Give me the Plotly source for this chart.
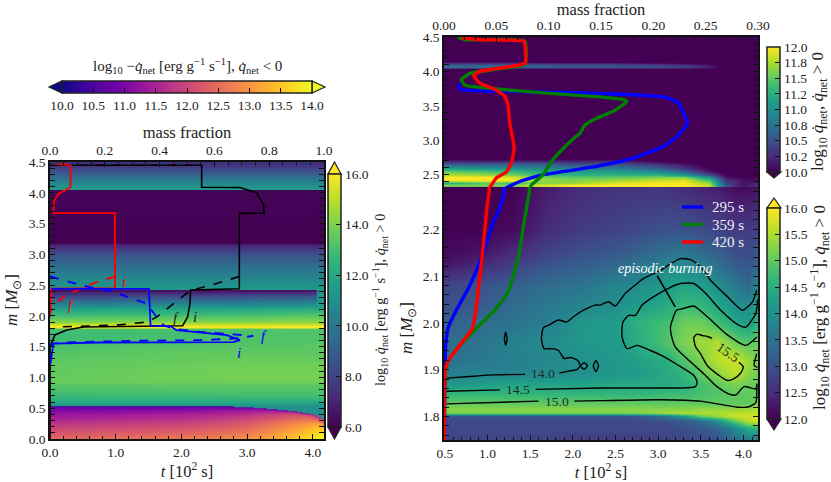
import plotly.graph_objects as go

W = 831
H = 482
FONT = "Liberation Serif"
INK = "#222222"
TICK_SIZE = 13.5

# left panel, positive net heating (viridis)
left_t = [0.0, 1.0, 2.0, 3.0, 3.8, 4.03, 4.08, 4.17]
left_m = [0.0, 0.5, 0.55, 0.6, 0.7, 0.8, 0.9, 0.92, 1.0, 1.2, 1.4, 1.55, 1.6, 1.7, 1.79, 1.805, 1.82, 1.84, 1.86,
          1.9, 2.0, 2.1, 2.2, 2.3, 2.35, 2.425, 2.435, 2.45, 2.6, 2.8, 3.0, 3.15, 3.2, 4.045, 4.06, 4.1, 4.2, 4.3,
          4.45, 4.5]
left_z = [
    [11.0, 11.0, 11.0, 11.0, 11.0, 11.0, 11.0, 11.0],
    [11.0, 11.0, 11.0, 11.0, 11.0, 11.0, 11.0, 11.0],
    [11.2, 11.2, 11.2, 11.2, 11.2, 11.3, 11.3, 11.3],
    [12.0, 12.0, 12.0, 12.0, 12.0, 12.0, 12.0, 12.0],
    [12.7, 12.8, 12.8, 12.9, 12.9, 12.9, 12.9, 12.9],
    [13.1, 13.1, 13.2, 13.2, 13.2, 13.2, 13.2, 13.2],
    [13.4, 13.4, 13.5, 13.5, 13.5, 13.5, 13.5, 13.5],
    [13.6, 13.7, 13.7, 13.8, 13.8, 13.8, 13.8, 13.8],
    [13.6, 13.7, 13.8, 13.9, 13.9, 13.9, 13.9, 13.9],
    [13.5, 13.6, 13.7, 13.8, 13.8, 13.8, 13.8, 13.8],
    [13.3, 13.4, 13.5, 13.5, 13.5, 13.4, 13.4, 13.4],
    [13.0, 13.2, 13.2, 13.3, 13.3, 13.4, 13.5, 13.5],
    [12.9, 13.0, 13.1, 13.2, 13.2, 13.2, 13.2, 13.2],
    [12.8, 12.9, 13.0, 13.1, 13.2, 13.2, 13.2, 13.2],
    [13.0, 13.0, 13.1, 13.2, 13.3, 13.3, 13.3, 13.3],
    [14.5, 14.6, 14.6, 14.6, 14.8, 14.8, 14.8, 14.8],
    [15.8, 15.8, 15.8, 15.8, 15.8, 15.8, 15.8, 15.8],
    [15.9, 15.9, 15.9, 15.9, 15.9, 15.9, 15.9, 15.9],
    [15.4, 15.4, 15.4, 15.4, 15.4, 15.4, 15.4, 15.4],
    [14.2, 14.2, 14.2, 14.2, 14.3, 14.3, 14.3, 14.3],
    [13.0, 13.1, 13.1, 13.2, 13.4, 13.4, 13.4, 13.4],
    [12.0, 12.1, 12.1, 12.2, 12.4, 12.4, 12.4, 12.4],
    [10.4, 10.5, 10.6, 10.6, 10.8, 10.9, 11.4, 11.4],
    [8.4, 8.5, 8.6, 8.7, 8.9, 9.0, 11.2, 11.2],
    [7.5, 7.6, 7.6, 7.7, 7.8, 7.9, 11.2, 11.2],
    [6.3, 6.3, 6.3, 6.3, 6.4, 6.4, 11.2, 11.2],
    [11.4, 11.4, 11.4, 11.4, 11.4, 11.4, 11.4, 11.4],
    [11.3, 11.3, 11.3, 11.3, 11.3, 11.3, 11.3, 11.3],
    [10.7, 10.7, 10.7, 10.7, 10.7, 10.7, 10.7, 10.7],
    [9.7, 9.7, 9.7, 9.7, 9.7, 9.7, 9.7, 9.7],
    [8.5, 8.5, 8.5, 8.5, 8.5, 8.5, 8.5, 8.5],
    [7.0, 7.0, 7.0, 7.0, 7.0, 7.0, 7.0, 7.0],
    [6.0, 6.0, 6.0, 6.0, 6.0, 6.0, 6.0, 6.0],
    [6.1, 6.1, 6.1, 6.1, 6.1, 6.1, 6.1, 6.1],
    [11.4, 11.4, 11.4, 11.4, 11.4, 11.4, 11.4, 11.4],
    [11.2, 11.2, 11.2, 11.2, 11.2, 11.2, 11.2, 11.2],
    [10.2, 10.2, 10.2, 10.2, 10.2, 10.2, 10.2, 10.2],
    [9.0, 9.0, 9.0, 9.0, 9.0, 9.0, 9.0, 9.0],
    [7.5, 7.5, 7.5, 7.5, 7.5, 7.5, 7.5, 7.5],
    [7.3, 7.3, 7.3, 7.3, 7.3, 7.3, 7.3, 7.3],
]

# left panel, net cooling (plasma); None above the edge of the cooling region
cool_t = [0.0, 1.0, 2.0, 2.6, 3.0, 3.2, 3.4, 3.55, 3.7, 3.8, 3.9, 3.97, 4.05, 4.1, 4.17]
cool_m = [0.0, 0.1, 0.2, 0.3, 0.36, 0.385, 0.4, 0.42, 0.435, 0.455, 0.47, 0.485, 0.5, 0.515, 0.525, 0.53]
N = None
cool_z = [
    [12.5, 12.6, 12.7, 12.85, 13.0, 13.1, 13.2, 13.35, 13.5, 13.6, 13.7, 13.8, 13.9, 13.95, 14.0],
    [12.2, 12.3, 12.4, 12.55, 12.7, 12.85, 13.0, 13.15, 13.3, 13.4, 13.5, 13.6, 13.7, 13.75, 13.8],
    [11.9, 12.0, 12.1, 12.25, 12.4, 12.55, 12.7, 12.85, 13.0, 13.1, 13.2, 13.3, 13.4, 13.4, 13.3],
    [11.6, 11.7, 11.8, 11.95, 12.1, 12.25, 12.4, 12.5, 12.6, 12.65, 12.7, 12.75, 12.7, 12.5, 12.0],
    [11.4, 11.5, 11.6, 11.75, 11.9, 12.0, 12.1, 12.2, 12.3, 12.35, 12.4, 12.3, 12.1, 11.6, N],
    [11.35, 11.45, 11.55, 11.65, 11.8, 11.9, 12.0, 12.1, 12.2, 12.2, 12.2, 12.0, 11.6, N, N],
    [11.3, 11.4, 11.5, 11.6, 11.7, 11.85, 11.95, 12.0, 12.05, 12.05, 11.9, 11.3, N, N, N],
    [11.25, 11.3, 11.4, 11.5, 11.6, 11.75, 11.8, 11.9, 11.9, 11.7, 11.1, N, N, N, N],
    [11.2, 11.25, 11.35, 11.45, 11.55, 11.65, 11.7, 11.75, 11.7, 11.1, N, N, N, N, N],
    [11.1, 11.15, 11.25, 11.35, 11.45, 11.5, 11.55, 11.4, 11.0, N, N, N, N, N, N],
    [11.05, 11.1, 11.15, 11.25, 11.35, 11.4, 11.3, 10.9, N, N, N, N, N, N, N],
    [11.0, 11.0, 11.05, 11.15, 11.2, 11.2, 10.9, N, N, N, N, N, N, N, N],
    [10.9, 10.9, 10.95, 11.0, 11.05, 10.9, N, N, N, N, N, N, N, N, N],
    [10.8, 10.8, 10.8, 10.85, 10.8, N, N, N, N, N, N, N, N, N, N],
    [10.6, 10.6, 10.6, 10.6, N, N, N, N, N, N, N, N, N, N, N],
    [N, N, N, N, N, N, N, N, N, N, N, N, N, N, N],
]

# right panel, upper part
top_t = [0.5, 1.0, 1.3, 1.6, 2.0, 2.5, 3.0, 3.3, 3.6, 3.8, 4.0, 4.17]
top_m = [2.3, 2.35, 2.38, 2.42, 2.46, 2.5, 2.55, 2.6, 2.65, 2.7, 2.74, 4.04, 4.07, 4.1, 4.13, 4.16, 4.5]
top_z = [
    [11.3, 11.3, 11.4, 11.7, 12.0, 12.0, 12.0, 12.0, 11.9, 10.6, 10.1, 10.3],
    [11.6, 11.6, 11.6, 11.9, 12.0, 12.0, 12.0, 12.0, 11.8, 10.5, 10.1, 10.3],
    [11.2, 11.5, 11.4, 11.6, 11.7, 11.9, 12.0, 12.0, 11.7, 10.4, 10.1, 10.2],
    [12.0, 12.0, 12.0, 11.7, 11.6, 11.7, 11.8, 11.9, 11.4, 10.3, 10.1, 10.1],
    [12.0, 12.0, 11.9, 11.6, 11.5, 11.5, 11.6, 11.6, 11.0, 10.1, 10.0, 10.0],
    [11.8, 11.7, 11.6, 11.4, 11.3, 11.3, 11.3, 11.1, 10.5, 10.0, 9.9, 9.9],
    [11.5, 11.4, 11.3, 11.2, 11.1, 11.1, 10.9, 10.6, 10.1, 9.9, 9.9, 9.9],
    [11.1, 11.0, 11.0, 10.9, 10.8, 10.8, 10.6, 10.3, 10.0, 9.9, 9.9, 9.9],
    [10.6, 10.6, 10.6, 10.6, 10.5, 10.5, 10.3, 10.1, 9.9, 9.9, 9.9, 9.9],
    [10.2, 10.2, 10.2, 10.2, 10.2, 10.2, 10.0, 9.9, 9.9, 9.9, 9.9, 9.9],
    [9.9, 9.9, 9.9, 9.9, 9.9, 9.9, 9.9, 9.9, 9.9, 9.9, 9.9, 9.9],
    [9.9, 9.9, 9.9, 9.9, 9.9, 9.9, 9.9, 9.9, 9.9, 9.9, 9.9, 9.9],
    [10.7, 10.7, 10.6, 10.6, 10.5, 10.5, 10.5, 10.4, 10.2, 9.9, 9.9, 9.9],
    [10.6, 10.6, 10.6, 10.6, 10.5, 10.5, 10.4, 10.3, 10.1, 9.9, 9.9, 9.9],
    [10.1, 10.1, 10.1, 10.0, 10.0, 10.0, 9.9, 9.9, 9.9, 9.9, 9.9, 9.9],
    [9.9, 9.9, 9.9, 9.9, 9.9, 9.9, 9.9, 9.9, 9.9, 9.9, 9.9, 9.9],
    [9.9, 9.9, 9.9, 9.9, 9.9, 9.9, 9.9, 9.9, 9.9, 9.9, 9.9, 9.9],
]

# right panel, lower part
low_t = [0.5, 0.9, 1.3, 1.7, 2.1, 2.5, 2.8, 3.1, 3.3, 3.5, 3.7, 3.9, 4.05, 4.17]
low_m = [1.75, 1.775, 1.79, 1.802, 1.808, 1.815, 1.83, 1.85, 1.87, 1.89, 1.92, 1.96, 2.0, 2.04, 2.08, 2.12, 2.15,
         2.2, 2.29]
low_z = [
    [12.8, 12.8, 12.8, 12.8, 12.7, 12.7, 12.7, 12.8, 12.8, 12.9, 13.0, 13.4, 13.6, 13.6],
    [12.9, 12.9, 12.9, 12.9, 12.9, 12.9, 12.9, 12.9, 13.0, 13.1, 13.3, 13.9, 14.5, 14.6],
    [12.9, 12.9, 12.9, 12.9, 12.9, 12.9, 12.9, 13.0, 13.1, 13.4, 14.0, 15.0, 15.6, 15.7],
    [13.0, 13.0, 13.0, 13.0, 13.0, 13.0, 13.1, 13.6, 14.2, 15.0, 15.4, 15.7, 15.7, 15.7],
    [15.1, 15.1, 15.1, 15.1, 15.1, 15.1, 15.2, 15.4, 15.5, 15.5, 15.5, 15.6, 15.6, 15.6],
    [15.3, 15.3, 15.3, 15.3, 15.3, 15.3, 15.3, 15.3, 15.3, 15.4, 15.4, 15.4, 15.5, 15.6],
    [15.0, 15.0, 15.0, 15.0, 15.0, 15.0, 15.0, 15.0, 15.0, 15.0, 15.0, 15.0, 15.0, 15.2],
    [14.6, 14.6, 14.6, 14.6, 14.6, 14.6, 14.6, 14.7, 14.7, 14.8, 14.9, 15.0, 15.0, 15.0],
    [14.1, 14.2, 14.3, 14.3, 14.3, 14.4, 14.4, 14.4, 14.5, 14.8, 15.0, 15.2, 15.1, 15.0],
    [13.7, 13.8, 13.85, 13.95, 14.0, 14.1, 14.2, 14.4, 14.6, 15.0, 15.3, 15.6, 15.3, 15.1],
    [13.5, 13.6, 13.7, 13.85, 14.0, 14.1, 14.3, 14.5, 14.9, 15.2, 15.6, 15.7, 15.4, 15.1],
    [13.4, 13.5, 13.8, 13.9, 14.1, 14.2, 14.5, 14.9, 15.2, 15.4, 15.5, 15.1, 14.9, 15.1],
    [13.2, 13.4, 13.5, 13.7, 14.1, 14.2, 14.6, 14.8, 15.1, 15.1, 14.8, 14.4, 14.2, 14.6],
    [13.0, 13.1, 13.4, 13.6, 13.8, 13.97, 14.2, 14.4, 14.7, 14.6, 14.3, 14.0, 13.9, 14.3],
    [12.8, 13.0, 13.2, 13.4, 13.5, 13.8, 13.95, 14.2, 14.3, 14.2, 14.0, 13.6, 13.3, 13.9],
    [12.3, 12.5, 12.8, 13.1, 13.2, 13.4, 13.6, 13.9, 14.0, 13.8, 13.5, 13.2, 13.1, 13.3],
    [12.1, 12.2, 12.5, 12.8, 13.0, 13.1, 13.3, 13.5, 13.6, 13.4, 13.2, 13.0, 12.9, 13.1],
    [12.0, 12.0, 12.1, 12.5, 12.7, 12.8, 12.9, 13.0, 13.0, 12.9, 12.8, 12.7, 12.7, 12.8],
    [12.0, 12.0, 12.0, 12.3, 12.5, 12.6, 12.6, 12.6, 12.5, 12.4, 12.3, 12.1, 12.1, 12.2],
]

# contour lines of the lower panel, broken where the labels sit
c14_t = [0.52, 0.833, 1.068, 1.44, None,
         1.843, 1.949, 2.047, 2.086, 2.055, 1.969, 1.898, 1.832, 1.753, 1.663, 1.632, 1.655, 1.714, 1.832, 1.93, 2.008,
         2.125, 2.262, 2.321, 2.419, 2.497, 2.615, 2.733, 2.83, 3.026, 3.125, 3.262, 3.379, 3.497, 3.615, 3.811, 3.987,
         4.105, 4.156, None,
         1.213, 1.197, 1.213, 1.229, 1.213, None,
         2.09, 2.133, 2.172, 2.133, 2.09, None,
         2.27, 2.24, 2.27, 2.30, 2.27]
c14_m = [1.882, 1.886, 1.889, 1.89, None,
         1.893, 1.897, 1.9, 1.909, 1.92, 1.926, 1.924, 1.941, 1.945, 1.945, 1.966, 1.99, 1.995, 2.006, 2.002, 2.013,
         2.027, 2.038, 2.038, 2.045, 2.036, 2.063, 2.081, 2.095, 2.112, 2.124, 2.137, 2.135, 2.12, 2.091, 2.056, 2.027,
         2.045, 2.07, None,
         1.98, 1.966, 1.952, 1.966, 1.98, None,
         1.908, 1.915, 1.908, 1.901, 1.908, None,
         1.92, 1.908, 1.896, 1.908, 1.92]
c145_t = [0.52, 1.146, None, 1.565, 2.321, 2.909, 3.437, 3.456, 3.417, 3.24, 3.045, 2.909, 2.752, 2.635, 2.576, 2.588,
          2.654, 2.733, 2.811, 2.948, 3.144, 3.262, 3.419, 3.556, 3.733, 3.929, 4.027, 4.144, 4.165]
c145_m = [1.854, 1.857, None, 1.858, 1.861, 1.861, 1.864, 1.874, 1.888, 1.909, 1.93, 1.941, 1.952, 1.945, 1.97, 2.002,
          2.016, 2.016, 2.038, 2.056, 2.076, 2.084, 2.084, 2.063, 2.027, 1.997, 1.991, 2.02, 2.05]
c15_t = [0.52, 1.597, None, 2.016, 2.321, 3.026, 3.497, 3.693, 3.929, 4.066, 4.144, 4.156, 4.156, None,
         4.156, 4.144, 4.007, 3.909, 3.831, 3.674, 3.537, 3.359, 3.2, 3.154, 3.144, 3.214, 3.283, 3.418, 3.576, 3.792,
         4.027, 4.156, None,
         4.156, 4.125, 4.164]
c15_m = [1.827, 1.833, None, 1.833, 1.834, 1.836, 1.833, 1.827, 1.82, 1.821, 1.83, 1.85, 1.87, None,
         1.87, 1.859, 1.864, 1.846, 1.848, 1.866, 1.891, 1.92, 1.949, 1.974, 1.991, 2.027, 2.03, 2.036, 2.013, 1.977,
         1.952, 1.97, None,
         1.934, 1.909, 1.905]
c155_t = [3.633, 3.575, 3.516, 3.457, 3.418, 3.438, 3.497, 3.575, 3.712, 3.811, 3.889, 3.967, 3.998, 3.947]
c155_m = [1.967, 1.971, 1.973, 1.976, 1.969, 1.949, 1.934, 1.909, 1.888, 1.877, 1.881, 1.893, 1.906, 1.916]
contour_names = ["14.0", "14.5", "15.0", "15.5"]
label_t = [1.648, 1.36, 1.81, 3.82]
label_m = [1.893, 1.858, 1.833, 1.936]
label_angle = [0, 0, 0, 35]

# composition profiles at three times, right panel (one curve runs through both parts)
times = ["295 s", "359 s", "420 s"]
blue_x = [0.0144, 0.015, 0.0533, 0.117, 0.181, 0.213, 0.224, 0.229, 0.2327, 0.2224, 0.2097, 0.181, 0.149, 0.117, 0.0948,
          0.0724, 0.0597, 0.0571, 0.0533, 0.0469, 0.0357, 0.0246, 0.015, 0.0086, 0.0038, 0.0016, 0.001, 0.0003]
blue_y = [3.83, 3.74, 3.71, 3.695, 3.66, 3.62, 3.54, 3.39, 3.25, 3.05, 2.91, 2.74, 2.63, 2.55, 2.5,
          2.4, 2.31, 2.274, 2.245, 2.213, 2.138, 2.08, 2.04, 2.013, 1.988, 1.952, 1.9, 1.75]
green_x = [0.0134, 0.0214, 0.0772, 0.0772, 0.0533, 0.0246, 0.0166, 0.0198, 0.0533, 0.1011, 0.149, 0.1714, 0.1745, 0.1617,
           0.1458, 0.1346, 0.1298, 0.1219, 0.1107, 0.1027, 0.0947, 0.0836, 0.0813, 0.0772, 0.0708, 0.0612, 0.0485,
           0.0309, 0.0182, 0.0054, 0.0013, 0.0003]
green_y = [4.49, 4.46, 4.44, 4.1, 4.04, 3.97, 3.88, 3.8, 3.74, 3.68, 3.63, 3.59, 3.56, 3.42,
           3.32, 3.22, 3.1, 3.0, 2.83, 2.69, 2.5, 2.35, 2.277, 2.224, 2.138, 2.066, 2.027,
           1.988, 1.959, 1.924, 1.902, 1.75]
red_x = [0.0166, 0.035, 0.0762, 0.0775, 0.0775, 0.0533, 0.0341, 0.0284, 0.0341, 0.0485, 0.058, 0.0612, 0.0628, 0.066,
         0.067, 0.0644, 0.0597, 0.05, 0.0437, 0.0431, 0.0412, 0.0373, 0.0341, 0.0303, 0.0271, 0.015, 0.0054, 0.0013,
         0.0003]
red_y = [4.49, 4.46, 4.44, 4.36, 4.12, 4.05, 4.0, 3.94, 3.83, 3.74, 3.64, 3.51, 3.25, 3.0,
         2.88, 2.67, 2.54, 2.45, 2.31, 2.28, 2.25, 2.16, 2.095, 2.024, 1.988, 1.952, 1.924, 1.902,
         1.75]

# initial and final profiles, left panel
black_i_x = [0.0, 0.5535, 0.5535, 0.693, 0.754, 0.779, 0.781, 0.691, 0.691, 0.513, 0.511, 0.502, 0.484, 0.122, 0.061,
             0.018, 0.0, 0.0]
black_i_y = [4.45, 4.45, 4.09, 4.085, 4.0, 3.81, 3.67, 3.665, 2.44, 2.42, 2.2, 1.98, 1.84, 1.82, 1.77, 1.69, 1.5, 0.0]
black_f_x = [0.691, 0.596, 0.511, 0.438, 0.389, 0.353, 0.243, 0.024]
black_f_y = [2.64, 2.51, 2.41, 2.155, 1.98, 1.9, 1.85, 1.82]
red_i_x = [0.012, 0.075, 0.075, 0.03, 0.0146, 0.012, 0.237, 0.237, 0.006, 0.0]
red_i_y = [4.47, 4.45, 4.085, 3.98, 3.87, 3.67, 3.67, 2.45, 2.44, 1.98]
red_f_x = [0.237, 0.17, 0.097, 0.049, 0.012, 0.0]
red_f_y = [2.64, 2.55, 2.41, 2.31, 2.17, 2.04]
blue_i_x = [0.004, 0.361, 0.367, 0.44, 0.462, 0.547, 0.645, 0.693, 0.669, 0.182, 0.012, 0.002]
blue_i_y = [2.44, 2.44, 1.84, 1.83, 1.767, 1.735, 1.686, 1.605, 1.573, 1.568, 1.55, 1.23]
blue_f_x = [0.0, 0.122, 0.231, 0.353, 0.389, 0.414, 0.45, 0.547, 0.669, 0.742, 0.669, 0.547, 0.304, 0.06, 0.006, 0.0]
blue_f_y = [2.64, 2.49, 2.39, 2.2, 1.98, 1.85, 1.79, 1.74, 1.7, 1.675, 1.63, 1.605, 1.595, 1.57, 1.55, 1.28]
top_dash_x = [0.0, 1.0]
top_dash_y = [4.47, 4.47]
letter_x = [0.27, 0.077, 0.459, 0.53, 0.78, 0.69]
letter_y = [2.55, 2.17, 1.97, 1.98, 1.675, 1.39]
letter_text = ["i", "f", "f", "i", "f", "i"]
letter_color = ["red", "red", "#222222", "#222222", "blue", "blue"]

arrow_t = [2.99, 3.2]
arrow_m = [2.10, 2.034]

quarter_ticks = [10.0, 10.25, 10.5, 10.75, 11.0, 11.25, 11.5, 11.75, 12.0]
quarter_text = ["10.0", "10.2", "10.5", "10.8", "11.0", "11.2", "11.5", "11.8", "12.0"]


def px(x):
    return x / W


def py(y):
    return 1 - y / H


def cbar(x, top, bottom, **kw):
    return dict(x=px(x), xanchor="left", y=py(bottom), yanchor="bottom", thickness=13, lenmode="pixels",
                len=bottom - top, xpad=0, ypad=0, outlinecolor=INK, outlinewidth=1.5, ticks="inside", ticklen=5,
                tickcolor="#111111", tickfont=dict(family=FONT, size=TICK_SIZE, color=INK), **kw)


def triangle(points, color):
    path = "M " + " L ".join("%.5f %.5f" % (px(a), py(b)) for a, b in points) + " Z"
    return dict(type="path", path=path, xref="paper", yref="paper", fillcolor=color,
                line=dict(color=INK, width=1.2))


def axis(domain, **kw):
    style = dict(domain=domain, ticks="inside", ticklen=5, tickwidth=1, tickcolor="#111111", showline=True,
                 linewidth=1.6, linecolor="#111111", showgrid=False, zeroline=False, title_font=dict(size=16.5, family=FONT, color=INK),
                 tickfont=dict(family=FONT, size=TICK_SIZE, color=INK))
    style.update(kw)
    return style


fig = go.Figure()

fig.add_trace(go.Heatmap(x=left_t, y=left_m, z=left_z, colorscale="Viridis", zmin=6, zmax=16, zsmooth="best",
                         colorbar=cbar(328, 174, 427, tickvals=[6, 8, 10, 12, 14, 16], tickformat=".1f"),
                         xaxis="x", yaxis="y"))
fig.add_trace(go.Heatmap(x=cool_t, y=cool_m, z=cool_z, colorscale="Plasma", zmin=10, zmax=14, zsmooth="best",
                         colorbar=dict(orientation="h", x=px(62), xanchor="left", y=py(81), yanchor="top",
                                       thickness=12, lenmode="pixels", len=250, xpad=0, ypad=0, outlinecolor=INK,
                                       outlinewidth=1.5, ticks="inside", ticklen=5, tickcolor="#111111", dtick=0.5,
                                       tick0=10, tickformat=".1f", tickfont=dict(family=FONT, size=TICK_SIZE, color=INK)),
                         xaxis="x", yaxis="y"))
fig.add_trace(go.Heatmap(x=top_t, y=top_m, z=top_z, colorscale="Viridis", zmin=10, zmax=12, zsmooth="best",
                         colorbar=cbar(767, 47, 172, tickvals=quarter_ticks, ticktext=quarter_text),
                         xaxis="x3", yaxis="y3"))
fig.add_trace(go.Heatmap(x=low_t, y=low_m, z=low_z, colorscale="Viridis", zmin=12, zmax=16, zsmooth="best",
                         colorbar=cbar(767, 208, 419, dtick=0.5, tick0=12, tickformat=".1f"),
                         xaxis="x5", yaxis="y5"))

for xs, ys, color, dash, width in [
    (black_i_x, black_i_y, "black", "solid", 1.6),
    (black_f_x, black_f_y, "black", "dash", 1.6),
    (red_i_x, red_i_y, "red", "solid", 1.9),
    (red_f_x, red_f_y, "red", "dash", 1.9),
    (blue_f_x, blue_f_y, "blue", "dash", 1.8),
    (blue_i_x, blue_i_y, "blue", "solid", 1.8),
    (top_dash_x, top_dash_y, "#1a3a7a", "dash", 1.2),
]:
    fig.add_trace(go.Scatter(x=xs, y=ys, mode="lines", line=dict(color=color, dash=dash, width=width),
                             showlegend=False, xaxis="x2", yaxis="y"))

for xs, ys in [(c14_t, c14_m), (c145_t, c145_m), (c15_t, c15_m), (c155_t, c155_m)]:
    fig.add_trace(go.Scatter(x=xs, y=ys, mode="lines", line=dict(color="black", width=1.4, shape="spline", smoothing=0.6),
                             showlegend=False, xaxis="x5", yaxis="y5"))
fig.add_trace(go.Scatter(x=arrow_t, y=arrow_m, mode="lines", line=dict(color="black", width=1.6),
                         showlegend=False, xaxis="x5", yaxis="y5"))

for xs, ys, color in [(blue_x, blue_y, "#0000ff"), (green_x, green_y, "#008000"), (red_x, red_y, "#ff0000")]:
    fig.add_trace(go.Scatter(x=xs, y=ys, mode="lines", line=dict(color=color, width=3.4, shape="spline", smoothing=0.4),
                             showlegend=False, xaxis="x4", yaxis="y3"))
    fig.add_trace(go.Scatter(x=xs, y=ys, mode="lines", line=dict(color=color, width=3.4, shape="spline", smoothing=0.4),
                             showlegend=False, xaxis="x6", yaxis="y5"))

left_dom = [px(50), px(324)]
right_dom = [px(444), px(758)]
notes = []
for a, b, s, c in zip(letter_x, letter_y, letter_text, letter_color):
    notes.append(dict(x=a, y=b, xref="x2", yref="y", text="<i>%s</i>" % s, showarrow=False,
                      font=dict(family=FONT, size=15, color=c)))
for a, b, s, ang in zip(label_t, label_m, contour_names, label_angle):
    notes.append(dict(x=a, y=b, xref="x5", yref="y5", text=s, showarrow=False, textangle=ang,
                      font=dict(family=FONT, size=13.5, color="#1c2b2b")))
notes.append(dict(x=3.085, y=2.116, xref="x5", yref="y5", text="<i>episodic burning</i>", showarrow=False,
                  font=dict(family=FONT, size=14, color="white")))

qpos = "<i>q̇</i><sub>net</sub>"
for x0, y0, text, size, angle in [
    (187, 66, "log<sub>10</sub> −%s [erg g<sup>−1</sup> s<sup>−1</sup>], %s &lt; 0" % (qpos, qpos), 15, 0),
    (380, 300, "log<sub>10</sub> %s [erg g<sup>−1</sup> s<sup>−1</sup>], %s &gt; 0" % (qpos, qpos), 14.3, -90),
    (819, 112, "log<sub>10</sub> %s, %s &gt; 0" % (qpos, qpos), 17, -90),
    (819, 308, "log<sub>10</sub> %s [erg g<sup>−1</sup> s<sup>−1</sup>], %s &gt; 0" % (qpos, qpos), 17, -90),
    (408, 328, "<i>m</i> [<i>M</i><sub>⊙</sub>]", 17, -90),
    (13, 300, "<i>m</i> [<i>M</i><sub>⊙</sub>]", 17, -90),
]:
    notes.append(dict(x=px(x0), y=py(y0), xref="paper", yref="paper", text=text, showarrow=False, textangle=angle,
                      xanchor="center", yanchor="middle", font=dict(family=FONT, size=size, color=INK)))

shapes = [
    triangle([(328, 174), (341, 174), (334.5, 162)], "#fde725"),
    triangle([(328, 427), (341, 427), (334.5, 439)], "#440154"),
    triangle([(62, 81), (62, 93), (49, 87)], "#0d0887"),
    triangle([(312, 81), (312, 93), (325, 87)], "#f0f921"),
    triangle([(767, 172), (781, 172), (774, 178)], "#440154"),
    triangle([(767, 208), (781, 208), (774, 198)], "#fde725"),
    triangle([(767, 419), (781, 419), (774, 430)], "#440154"),
]

# legend of the lower right panel, tighter than a native legend allows
for y0, text, color in zip([207, 224.5, 242], times, ["#0000ff", "#008000", "#ff0000"]):
    shapes.append(dict(type="line", xref="paper", yref="paper", x0=px(682), x1=px(703), y0=py(y0), y1=py(y0),
                       line=dict(color=color, width=3.4)))
    notes.append(dict(x=px(710), y=py(y0), xref="paper", yref="paper", text=text, showarrow=False, xanchor="left",
                      yanchor="middle", font=dict(family=FONT, size=15, color="#f0f0f0")))

fig.update_layout(
    width=W, height=H, margin=dict(l=0, r=0, t=0, b=0, autoexpand=False), paper_bgcolor="white", plot_bgcolor="white",
    font=dict(family=FONT, size=12, color=INK), showlegend=False,
    annotations=notes, shapes=shapes,
    xaxis=axis(left_dom, range=[0, 4.17], anchor="y", dtick=1, tick0=0, tickformat=".1f", title_text="<i>t</i> [10<sup>2</sup> s]",
               title_standoff=4, minor=dict(ticks="inside", ticklen=3, dtick=0.2, tick0=0, tickcolor="#111111")),
    xaxis2=axis(left_dom, range=[0, 1], anchor="y", overlaying="x", side="top", dtick=0.2, tick0=0, tickformat=".1f",
                title_text="mass fraction", title_standoff=0,
                minor=dict(ticks="inside", ticklen=3, dtick=0.05, tick0=0, tickcolor="#111111")),
    yaxis=axis([py(439), py(162)], range=[0, 4.5], anchor="x", dtick=0.5, tick0=0, tickformat=".1f", mirror="allticks",
               minor=dict(ticks="inside", ticklen=3, dtick=0.1, tick0=0, tickcolor="#111111")),
    xaxis3=axis(right_dom, range=[0.5, 4.17], anchor="y3", showticklabels=False, ticks=""),
    xaxis4=axis(right_dom, range=[0, 0.3], anchor="y3", overlaying="x3", side="top", dtick=0.05, tick0=0, tickformat=".2f",
                title_text="mass fraction", title_standoff=0,
                minor=dict(ticks="inside", ticklen=3, dtick=0.01, tick0=0, tickcolor="#111111")),
    yaxis3=axis([py(187), py(37)], range=[2.32, 4.5], anchor="x3", dtick=0.5, tick0=2.5, tickformat=".1f", mirror="allticks",
                minor=dict(ticks="inside", ticklen=3, dtick=0.1, tick0=2.5, tickcolor="#111111")),
    xaxis5=axis(right_dom, range=[0.49, 4.17], anchor="y5", dtick=0.5, tick0=0.5, tickformat=".1f",
                title_text="<i>t</i> [10<sup>2</sup> s]", title_standoff=4,
                minor=dict(ticks="inside", ticklen=3, dtick=0.1, tick0=0.5, tickcolor="#111111")),
    xaxis6=dict(domain=right_dom, range=[0, 0.3], anchor="y5", overlaying="x5", visible=False),
    yaxis5=axis([py(440), py(187)], range=[1.75, 2.29], anchor="x5", dtick=0.1, tick0=1.8, tickformat=".1f", mirror="allticks",
                minor=dict(ticks="inside", ticklen=3, dtick=0.02, tick0=1.8, tickcolor="#111111")),
)

fig.write_html("out.html", config=dict(displayModeBar=False),
               post_script="document.body.style.margin='0';document.body.style.overflow='hidden';")
